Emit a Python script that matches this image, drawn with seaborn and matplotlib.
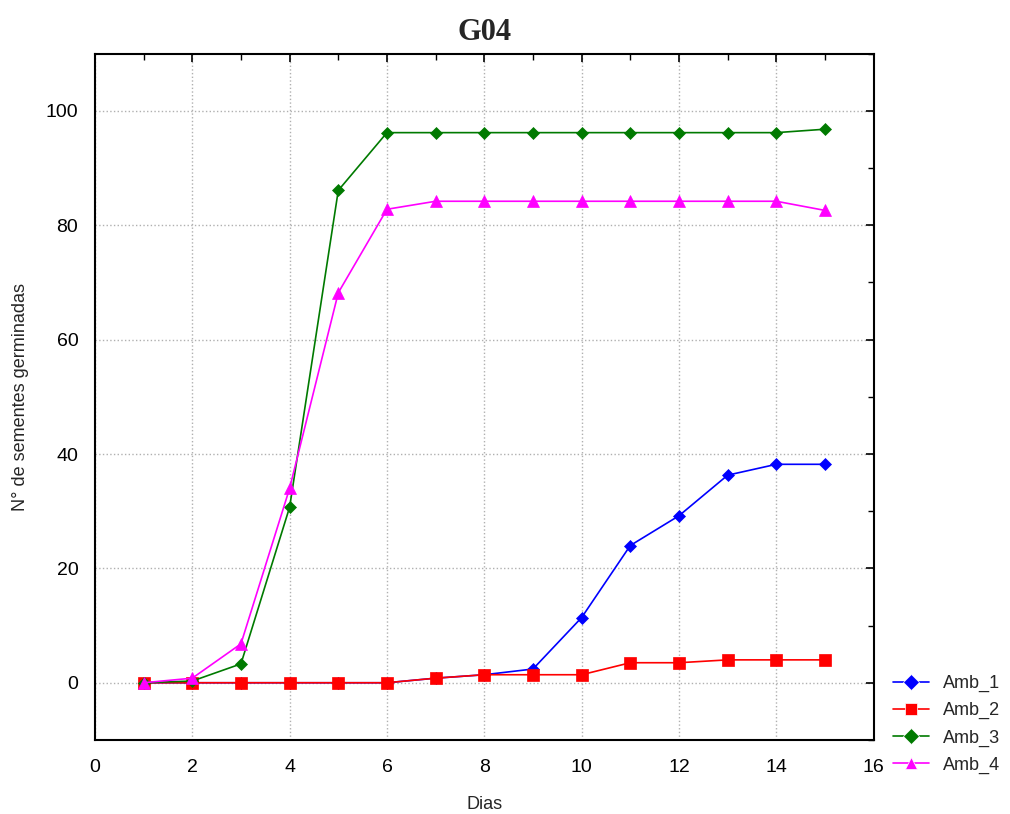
import matplotlib
matplotlib.use("Agg")
import matplotlib.pyplot as plt
from matplotlib.ticker import MultipleLocator
import pandas as pd
import seaborn as sns

dias = list(range(1, 16))
amb_1 = [0, 0, 0, 0, 0, 0, 0.8, 1.4, 2.4, 11.4, 24.0, 29.2, 36.3, 38.2, 38.2]
amb_2 = [0, 0, 0, 0, 0, 0, 0.8, 1.4, 1.4, 1.4, 3.5, 3.5, 4.0, 4.0, 4.0]
amb_3 = [0, 0.3, 3.3, 30.7, 86.1, 96.2, 96.2, 96.2, 96.2, 96.2, 96.2, 96.2, 96.2, 96.2, 96.8]
amb_4 = [0, 0.8, 6.8, 34.0, 68.2, 82.8, 84.2, 84.2, 84.2, 84.2, 84.2, 84.2, 84.2, 84.2, 82.6]
series = ["Amb_1", "Amb_2", "Amb_3", "Amb_4"]

df = pd.DataFrame({
    "Dias": dias * 4,
    "valor": amb_1 + amb_2 + amb_3 + amb_4,
    "Amb": [s for s in series for _ in dias],
})

sns.set_theme(style="white")
plt.rcParams["font.family"] = ["Liberation Sans", "DejaVu Sans"]

fig = plt.figure(figsize=(10.1, 8.14), dpi=100)
ax = fig.add_axes([0.094, 0.091, 0.771, 0.843])

palette = {"Amb_1": "#0000ff", "Amb_2": "#ff0000", "Amb_3": "#007a00", "Amb_4": "#ff00ff"}
markers = {"Amb_1": "D", "Amb_2": "s", "Amb_3": "D", "Amb_4": "^"}
sizes = {"Amb_1": 6, "Amb_2": 9, "Amb_3": 6, "Amb_4": 9}

sns.lineplot(data=df, x="Dias", y="valor", hue="Amb", style="Amb",
             palette=palette, markers=markers, dashes=False,
             linewidth=1.2, markersize=8, markeredgewidth=0.5, ax=ax)

# adjust marker sizes per series
for line, name in zip(ax.lines, series):
    line.set_markersize(sizes[name])
    line.set_markeredgecolor(palette[name])

ax.set_xlim(0, 16)
ax.set_ylim(-10, 110)
ax.xaxis.set_major_locator(MultipleLocator(2))
ax.xaxis.set_minor_locator(MultipleLocator(1))
ax.yaxis.set_major_locator(MultipleLocator(20))
ax.yaxis.set_minor_locator(MultipleLocator(10))
ax.tick_params(which="both", direction="in", top=True, right=True, colors="black",
               labelsize=14)
ax.tick_params(axis="x", which="both", pad=14)
ax.tick_params(axis="y", which="both", pad=12)
ax.tick_params(which="major", length=6, width=1.2)
ax.tick_params(which="minor", length=4, width=1.0)
ax.grid(True, which="major", linestyle=":", color="#b0b0b0", linewidth=1)
for spine in ax.spines.values():
    spine.set_color("black")
    spine.set_linewidth(1.5)

ax.set_xlabel("Dias", fontsize=13, labelpad=14)
ax.set_ylabel("N° de sementes germinadas", fontsize=13, labelpad=12)
ax.set_title("G04", fontsize=22, fontweight="bold", family="Liberation Serif", pad=10)

handles, labels = ax.get_legend_handles_labels()
ax.legend(handles, labels, loc="upper left", bbox_to_anchor=(1.015, 0.105),
          frameon=False, fontsize=13, handlelength=2.0, borderaxespad=0,
          labelspacing=0.55)

fig.savefig("out.png", dpi=100)
